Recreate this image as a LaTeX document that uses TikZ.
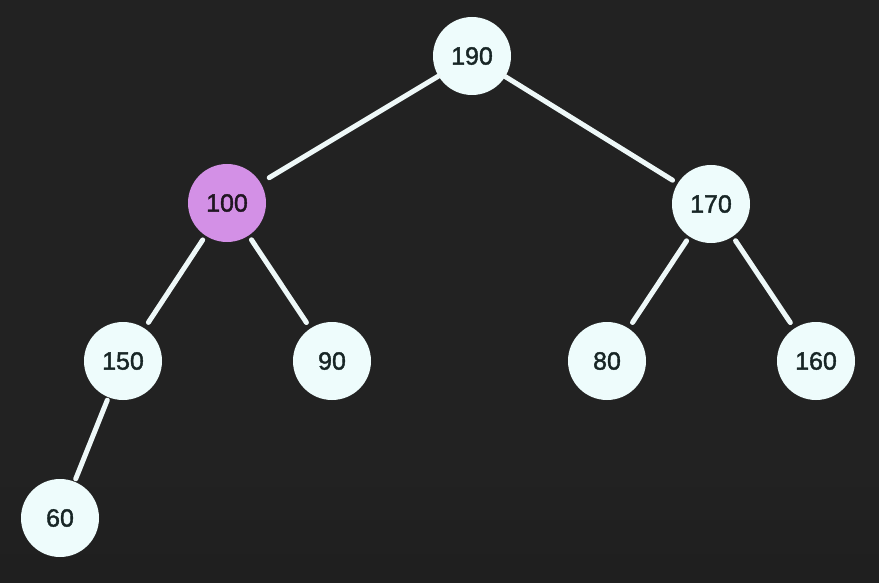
\documentclass[tikz,border=0pt]{standalone}
\usepackage{fontspec}
\setmainfont{Liberation Sans}
\newfontfamily\nodefont[FakeBold=1.5]{Liberation Sans}
\definecolor{bg}{HTML}{222222}
\definecolor{nodefill}{HTML}{EEFCFC}
\definecolor{purp}{HTML}{D390E6}
\definecolor{txt}{HTML}{182626}
\definecolor{edgec}{HTML}{EEF8F8}
\begin{document}
\begin{tikzpicture}[x=1pt,y=-1pt,
  tnode/.style={circle,fill=nodefill,minimum size=78pt,inner sep=0pt,text=txt,font=\nodefont\fontsize{25}{28}\selectfont},
  hnode/.style={tnode,fill=purp,text=black!85!purp},
  tedge/.style={draw=edgec,line width=5pt,line cap=round,shorten <=5pt,shorten >=7pt}]
\fill[bg] (0,0) rectangle (879,583);
\shade[top color=bg,bottom color=black!88] (0,470) rectangle (879,583);
\useasboundingbox (0,0) rectangle (879,583);
\node[tnode] (n190) at (472,56) {190};
\node[hnode] (n100) at (227,203) {100};
\node[tnode] (n170) at (711,204) {170};
\node[tnode] (n150) at (123,361) {150};
\node[tnode] (n90) at (332,361) {90};
\node[tnode] (n80) at (607,361) {80};
\node[tnode] (n160) at (816,361) {160};
\node[tnode] (n60) at (60,518) {60};
\draw[tedge,shorten <=0pt,shorten >=10pt] (n190) -- (n100);
\draw[tedge,shorten <=0pt,shorten >=6pt] (n190) -- (n170);
\draw[tedge] (n100) -- (n150);
\draw[tedge] (n100) -- (n90);
\draw[tedge] (n170) -- (n80);
\draw[tedge] (n170) -- (n160);
\draw[tedge,shorten <=3pt,shorten >=3pt] (n150) -- (n60);
\end{tikzpicture}
\end{document}
